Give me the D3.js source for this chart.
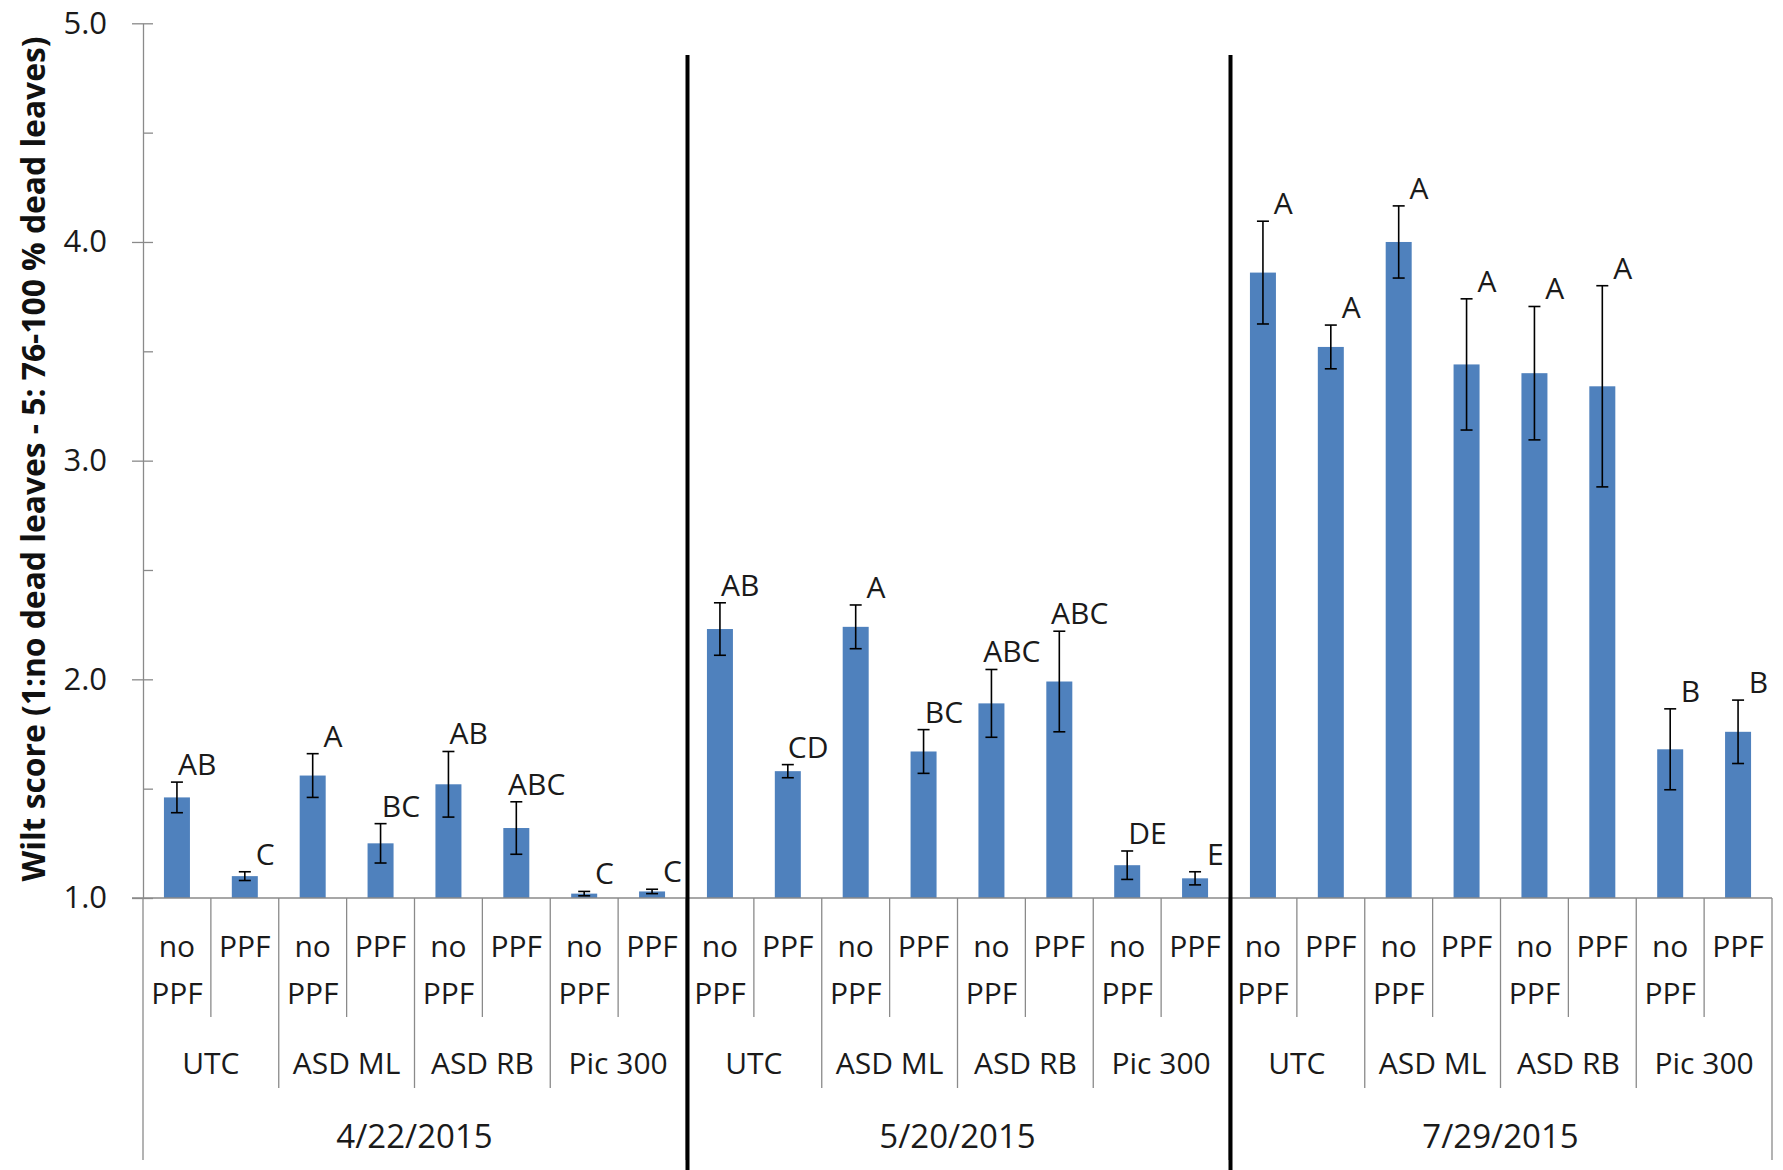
<!DOCTYPE html>
<html>
<head>
<meta charset="utf-8">
<script src="https://cdn.jsdelivr.net/npm/d3@7"></script>
<style>
  html, body { margin: 0; padding: 0; background: #fff; }
  svg { display: block; }
  text { font-family: "Open Sans", "Noto Sans", sans-serif; fill: #1a1a1a; }
</style>
</head>
<body>
<svg id="chart" width="1783" height="1170"></svg>
<script>
// ---- data ----
const dates = ["4/22/2015", "5/20/2015", "7/29/2015"];
const treatments = ["UTC", "ASD ML", "ASD RB", "Pic 300"];
const ppfLevels = ["no PPF", "PPF"];

const means = [
  1.46, 1.10, 1.56, 1.25, 1.52, 1.32, 1.02, 1.03,
  2.23, 1.58, 2.24, 1.67, 1.89, 1.99, 1.15, 1.09,
  3.86, 3.52, 4.00, 3.44, 3.40, 3.34, 1.68, 1.76
];
const errors = [
  0.07, 0.02, 0.10, 0.09, 0.15, 0.12, 0.01, 0.01,
  0.12, 0.03, 0.10, 0.10, 0.155, 0.23, 0.065, 0.03,
  0.235, 0.10, 0.165, 0.30, 0.305, 0.46, 0.185, 0.145
];
const letters = [
  "AB", "C", "A", "BC", "AB", "ABC", "C", "C",
  "AB", "CD", "A", "BC", "ABC", "ABC", "DE", "E",
  "A", "A", "A", "A", "A", "A", "B", "B"
];
const yTicks = [1, 2, 3, 4, 5];
const yMinorTicks = [1.5, 2.5, 3.5, 4.5];
const yTitle = "Wilt score (1:no dead leaves - 5: 76-100 % dead leaves)";

(function () {
// ---- build rows ----
const rows = [];
dates.forEach((d, di) => treatments.forEach((t, ti) => ppfLevels.forEach((p, pi) => {
  const i = rows.length;
  rows.push({ i, date: d, treat: t, ppf: p, mean: means[i], err: errors[i], letter: letters[i] });
})));

const svg = d3.select("#chart");
const xLeft = 143, xRight = 1772, yTop = 23.3, yBase = 898;
const axisColor = "#8a8a8a";

const cat = d3.scaleBand().domain(d3.range(rows.length)).range([xLeft, xRight]).padding(0);
const bar = d3.scaleBand().domain(d3.range(rows.length)).range([xLeft, xRight])
  .paddingInner(0.617).paddingOuter(0.3085);
const y = d3.scaleLinear().domain([1, 5]).range([yBase, yTop]);
const step = cat.step();
const bx = i => (i < rows.length ? cat(i) : xRight);

// ---- y axis ----
const gy = svg.append("g").attr("transform", `translate(${xLeft},0)`);
gy.call(d3.axisLeft(y).tickValues(yTicks).tickFormat(d3.format(".1f"))
  .tickSizeInner(11).tickSizeOuter(0).tickPadding(25));
gy.selectAll("path.domain").attr("stroke", axisColor).attr("stroke-width", 1.3);
gy.selectAll(".tick line").attr("stroke", axisColor).attr("stroke-width", 1.3);
gy.selectAll(".tick text").attr("font-size", 31).attr("font-family", "Open Sans").attr("fill", "#2a2a2a");

const gyR = svg.append("g").attr("transform", `translate(${xLeft},0)`);
gyR.call(d3.axisRight(y).tickValues(yTicks.concat(yMinorTicks)).tickFormat("").tickSizeInner(10).tickSizeOuter(0));
gyR.select("path.domain").remove();
gyR.selectAll(".tick line").attr("stroke", axisColor).attr("stroke-width", 1.3);

// y title
svg.append("text")
  .attr("transform", `translate(45,${(881 + 37) / 2}) rotate(-90)`)
  .attr("text-anchor", "middle")
  .attr("font-size", 32)
  .attr("font-weight", "bold")
  .attr("textLength", 845)
  .attr("lengthAdjust", "spacingAndGlyphs")
  .style("fill", "#111")
  .text(yTitle);

// ---- bars ----
svg.append("g").selectAll("rect").data(rows).join("rect")
  .attr("x", d => bar(d.i))
  .attr("width", bar.bandwidth())
  .attr("y", d => y(d.mean))
  .attr("height", d => y(1) - y(d.mean))
  .attr("fill", "#4f81bd");

// ---- error bars ----
const eg = svg.append("g").attr("stroke", "#000").attr("stroke-width", 1.6);
rows.forEach(d => {
  const cx = bar(d.i) + bar.bandwidth() / 2;
  const y1 = y(d.mean + d.err), y0 = y(d.mean - d.err);
  eg.append("line").attr("x1", cx).attr("x2", cx).attr("y1", y1).attr("y2", y0);
  eg.append("line").attr("x1", cx - 6).attr("x2", cx + 6).attr("y1", y1).attr("y2", y1);
  eg.append("line").attr("x1", cx - 6).attr("x2", cx + 6).attr("y1", y0).attr("y2", y0);
});

// ---- letters ----
svg.append("g").selectAll("text").data(rows).join("text")
  .attr("x", d => bar(d.i) + bar.bandwidth() / 2 + step * 0.3)
  .attr("y", d => y(d.mean + d.err) - 7)
  .attr("text-anchor", "middle")
  .attr("font-size", 30)
  .text(d => d.letter);

// ---- x axis baseline + dividers ----
const xg = svg.append("g").attr("stroke", axisColor).attr("stroke-width", 1.3);
xg.append("line").attr("x1", xLeft - 11).attr("x2", xRight).attr("y1", yBase).attr("y2", yBase);
d3.range(rows.length + 1).forEach(k => {
  let bottom;
  if (k % 8 === 0) bottom = 1160;
  else if (k % 2 === 0) bottom = 1088;
  else bottom = 1017;
  xg.append("line").attr("x1", bx(k)).attr("x2", bx(k)).attr("y1", yBase).attr("y2", bottom);
});

// level 1 labels
const l1 = svg.append("g").attr("font-size", 30).attr("text-anchor", "middle");
rows.forEach(d => {
  const cx = cat(d.i) + step / 2;
  const words = d.ppf.split(" ");
  const t = l1.append("text").attr("x", cx).attr("y", 957);
  words.forEach((w, wi) => {
    t.append("tspan").attr("x", cx).attr("y", 957 + wi * 47).text(w);
  });
});

// level 2 labels (treatments)
const l2 = svg.append("g").attr("font-size", 30).attr("text-anchor", "middle");
dates.forEach((dt, di) => treatments.forEach((t, ti) => {
  const k = di * 8 + ti * 2;
  l2.append("text").attr("x", cat(k) + step).attr("y", 1074).text(t);
}));

// level 3 labels (dates)
const l3 = svg.append("g").attr("font-size", 33).attr("text-anchor", "middle");
dates.forEach((dt, di) => {
  const k = di * 8;
  l3.append("text").attr("x", cat(k) + step * 4).attr("y", 1148).text(dt);
});

// ---- black separators between dates ----
const sg = svg.append("g").attr("stroke", "#000").attr("stroke-width", 4);
[8, 16].forEach(k => {
  sg.append("line").attr("x1", bx(k) + 1.5).attr("x2", bx(k) + 1.5).attr("y1", 55).attr("y2", 1170);
});
})();
</script>
</body>
</html>
